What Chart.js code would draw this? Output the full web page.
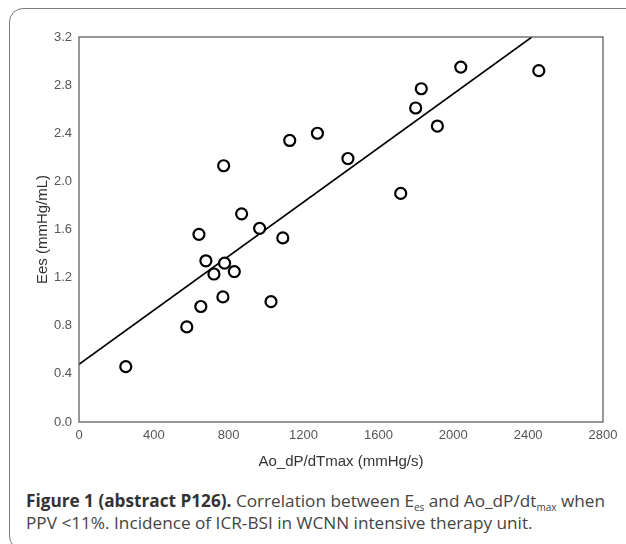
<!DOCTYPE html>
<html>
<head>
<meta charset="utf-8">
<script src="https://cdn.jsdelivr.net/npm/chart.js@4/dist/chart.umd.min.js"></script>
<style>
  html, body { margin: 0; padding: 0; background: #fff; overflow: hidden; }
  body { width: 626px; height: 544px; position: relative; }
  #frame {
    position: absolute; left: 9px; top: 8px; width: 660px; height: 540px;
    border: 1.5px solid #7a7a7a; border-radius: 14px;
  }
  #wrap { position: absolute; left: 0; top: 0; width: 626px; height: 480px; }
  #caption {
    position: absolute; left: 26px; top: 490px; width: 600px;
    font-family: 'Open Sans', sans-serif; font-size: 17.2px; line-height: 22px; color: #444;
    white-space: nowrap;
  }
  #caption b { color: #333; }
  #caption sub { font-size: 10px; vertical-align: -4px; line-height: 0; }
</style>
</head>
<body>
<div id="frame"></div>
<div id="wrap"><canvas id="grafica"></canvas></div>
<div id="caption">
  <b>Figure 1 (abstract P126).</b> Correlation between E<sub>es</sub> and Ao_dP/dt<sub>max</sub> when<br>
  PPV &lt;11%. Incidence of ICR-BSI in WCNN intensive therapy unit.
</div>
<script>
// puntos
const dpdtMax = [250, 576, 641, 651, 678, 721, 778, 769, 830, 965, 1026, 1089,
  773, 869, 1126, 1274, 1437, 1719, 1799, 1829, 1915, 2040, 2457];
const ees = [0.46, 0.79, 1.56, 0.96, 1.34, 1.23, 1.32, 1.04, 1.25, 1.61, 1.00, 1.53,
  2.13, 1.73, 2.34, 2.40, 2.19, 1.90, 2.61, 2.77, 2.46, 2.95, 2.92];

// recta de regresión (extremos leídos)
const fitX = [0, 2420];
const fitY = [0.48, 3.2];

const xTicks = [0, 400, 800, 1200, 1600, 2000, 2400, 2800];
const yTicks = [0.0, 0.4, 0.8, 1.2, 1.6, 2.0, 2.4, 2.8, 3.2];

const tickFont = { family: "'Liberation Sans', Arial, sans-serif", size: 13 };
const titleFont = { family: "'Liberation Sans', Arial, sans-serif", size: 15 };

// marco del área de la gráfica
const framePlugin = {
  id: 'marco',
  afterDatasetsDraw(chart) {
    const { ctx, chartArea: a } = chart;
    ctx.save();
    ctx.strokeStyle = '#555';
    ctx.lineWidth = 1.2;
    ctx.strokeRect(a.left, a.top, a.right - a.left, a.bottom - a.top);
    ctx.restore();
  }
};

const ctx = document.getElementById('grafica').getContext('2d');

new Chart(ctx, {
  type: 'scatter',
  data: {
    datasets: [
      {
        label: 'Ees',
        data: dpdtMax.map((x, i) => ({ x, y: ees[i] })),
        pointRadius: 5.5,
        pointHoverRadius: 5.5,
        borderWidth: 2.2,
        borderColor: '#000',
        backgroundColor: '#fff'
      },
      {
        label: 'Ajuste',
        type: 'line',
        data: fitX.map((x, i) => ({ x, y: fitY[i] })),
        showLine: true,
        pointRadius: 0,
        borderWidth: 1.6,
        borderColor: '#000',
        fill: false
      }
    ]
  },
  options: {
    responsive: true,
    maintainAspectRatio: false,
    animation: false,
    events: [],
    layout: { padding: { top: 37, right: 23, left: 0, bottom: 0 } },
    plugins: {
      legend: { display: false },
      tooltip: { enabled: false }
    },
    scales: {
      x: {
        type: 'linear',
        min: 0,
        max: 2800,
        afterBuildTicks: axis => { axis.ticks = xTicks.map(value => ({ value })); },
        afterFit: axis => { axis.height = 58; },
        grid: { display: false, drawTicks: false },
        border: { display: false },
        ticks: {
          color: '#555', font: tickFont, padding: 6, maxRotation: 0,
          callback: value => String(value)
        },
        title: {
          display: true,
          text: 'Ao_dP/dTmax (mmHg/s)',
          color: '#333',
          font: titleFont,
          padding: { top: 0, bottom: 9 }
        }
      },
      y: {
        type: 'linear',
        min: 0,
        max: 3.2,
        afterBuildTicks: axis => { axis.ticks = yTicks.map(value => ({ value })); },
        afterFit: axis => { axis.width = 79; },
        grid: { display: false, drawTicks: false },
        border: { display: false },
        ticks: {
          color: '#555',
          font: tickFont,
          padding: 7,
          callback: value => Number(value).toFixed(1)
        },
        title: {
          display: true,
          text: 'Ees (mmHg/mL)',
          color: '#333',
          font: titleFont,
          padding: { top: 34, bottom: 0 }
        }
      }
    }
  },
  plugins: [framePlugin]
});
</script>
</body>
</html>
